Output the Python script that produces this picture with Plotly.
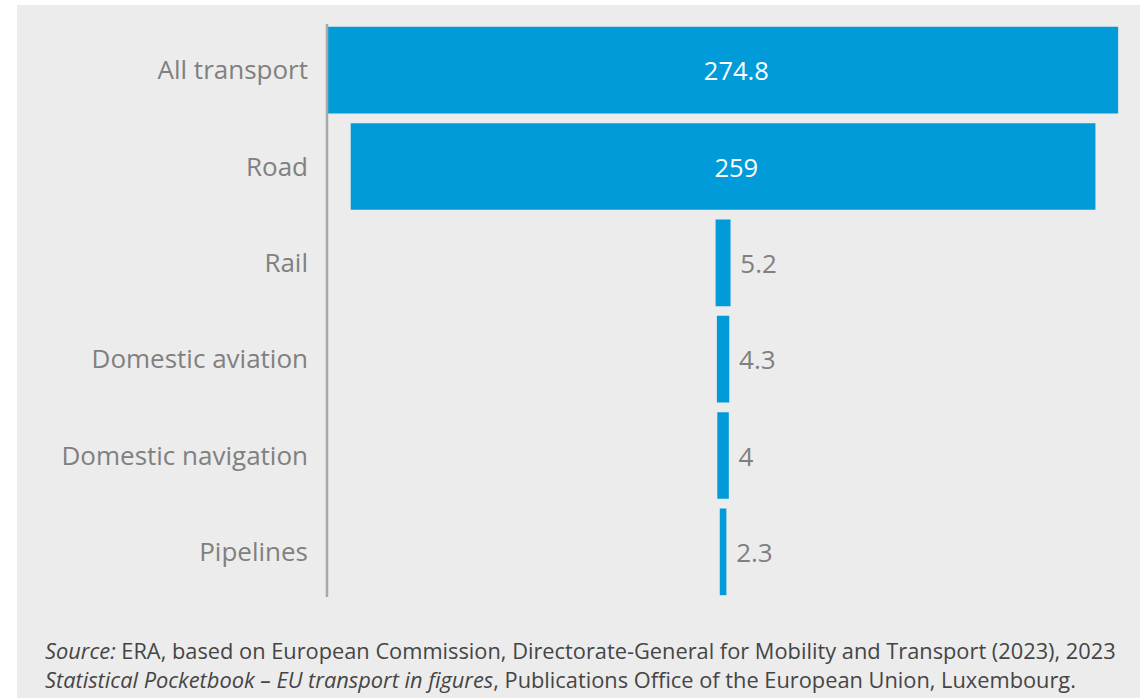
import plotly.graph_objects as go

# Greenhouse-gas emissions by transport mode (values shown on bars)
modes = ["All transport", "Road", "Rail", "Domestic aviation", "Domestic navigation", "Pipelines"]
values = [274.8, 259, 5.2, 4.3, 4, 2.3]
text_pos = ["inside", "inside", "outside", "outside", "outside", "outside"]

BAR = "#009bd8"
BG = "#ececec"
GREY_TXT = "#808080"
NBSP = "\u00a0"

W, H = 1140, 698
ML, MR, MT, MB = 328, 0, 22, 98
PW, PH = W - ML - MR, H - MT - MB


def px_x(px):
    return (px - ML) / PW


def px_y(py):
    return (H - MB - py) / PH


# inside labels sit a little right of the bar centre; outside labels keep a small gap
templates = [(NBSP * 4 if p == "inside" else NBSP) + "%{x}" for p in text_pos]

fig = go.Figure(
    go.Funnel(
        y=modes,
        x=values,
        texttemplate=templates,
        textposition=text_pos,
        insidetextanchor="middle",
        insidetextfont=dict(family="Open Sans", size=25.5, color="white"),
        outsidetextfont=dict(family="Open Sans", size=26, color=GREY_TXT),
        marker=dict(color=BAR),
        connector=dict(visible=False),
        constraintext="none",
        cliponaxis=False,
        hoverinfo="y+x",
    )
)

fig.update_layout(
    width=W,
    height=H,
    margin=dict(l=ML, r=MR, t=MT, b=MB),
    paper_bgcolor=BG,
    plot_bgcolor=BG,
    funnelgap=0.1,
    showlegend=False,
    xaxis=dict(visible=False, range=[-137.4, 145.0], fixedrange=True),
    yaxis=dict(
        showgrid=False,
        zeroline=False,
        ticks="",
        ticklabelstandoff=19,
        tickfont=dict(family="Open Sans", size=26, color=GREY_TXT),
    ),
    shapes=[
        # white page edges
        dict(type="rect", xref="paper", yref="paper", x0=px_x(0), x1=px_x(W), y0=px_y(5), y1=px_y(0),
             fillcolor="white", line=dict(width=0), layer="below"),
        dict(type="rect", xref="paper", yref="paper", x0=px_x(0), x1=px_x(17), y0=px_y(H), y1=px_y(0),
             fillcolor="white", line=dict(width=0), layer="below"),
        # vertical axis rule
        dict(type="line", xref="paper", yref="paper", x0=px_x(327), x1=px_x(327), y0=px_y(597), y1=px_y(24),
             line=dict(color="#a8a8a8", width=2.5), layer="above"),
    ],
    annotations=[
        dict(
            xref="paper", yref="paper", x=px_x(43), y=px_y(650), xanchor="left", yanchor="middle",
            showarrow=False, align="left",
            text="<i>Source:</i> ERA, based on European Commission, Directorate-General for Mobility and Transport (2023), 2023",
            font=dict(family="Open Sans", size=21.8, color="#454545"),
        ),
        dict(
            xref="paper", yref="paper", x=px_x(43), y=px_y(680), xanchor="left", yanchor="middle",
            showarrow=False, align="left",
            text="<i>Statistical Pocketbook – EU transport in figures</i>, Publications Office of the European Union, Luxembourg.",
            font=dict(family="Open Sans", size=21.8, color="#454545"),
        ),
    ],
)

fig.write_html("out.html")
